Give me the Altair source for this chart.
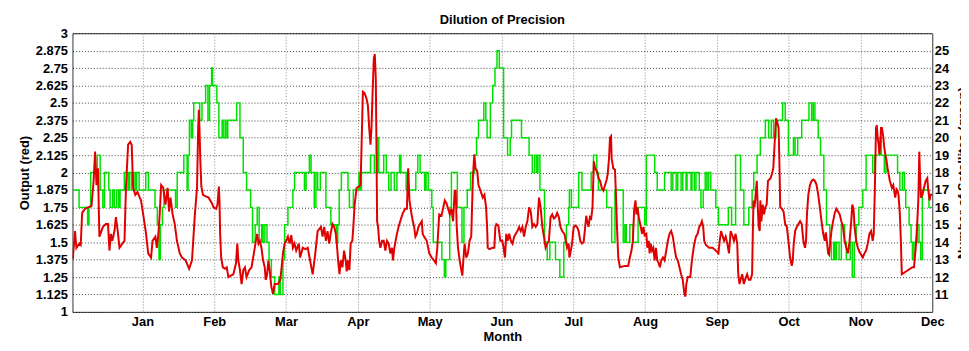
import altair as alt
import pandas as pd

CHART_TITLE = "Dilution of Precision"
MONTHS = ["Jan", "Feb", "Mar", "Apr", "May", "Jun", "Jul", "Aug", "Sep", "Oct", "Nov", "Dec"]
MONTH_TICKS = [1, 2, 3, 4, 5, 6, 7, 8, 9, 10, 11, 12]
LEFT_TICKS = [1, 1.125, 1.25, 1.375, 1.5, 1.625, 1.75, 1.875, 2, 2.125, 2.25, 2.375,
              2.5, 2.625, 2.75, 2.875, 3]
RIGHT_TICKS = [11, 12, 13, 14, 15, 16, 17, 18, 19, 20, 21, 22, 23, 24, 25]

# Output (red) : month position, value
red_pts = [
    (0.03, 1.38), (0.06, 1.58), (0.08, 1.46), (0.12, 1.49), (0.14, 1.48), (0.16, 1.71), (0.20, 1.74),
    (0.24, 1.75), (0.29, 1.76), (0.32, 1.94), (0.34, 2.15), (0.36, 1.91), (0.38, 2.03), (0.40, 1.54),
    (0.45, 1.61), (0.49, 1.63), (0.52, 1.63), (0.54, 1.44), (0.56, 1.56), (0.58, 1.51), (0.61, 1.58),
    (0.63, 1.68), (0.66, 1.56), (0.68, 1.46), (0.72, 1.49), (0.75, 1.51), (0.77, 1.89), (0.80, 2.20),
    (0.83, 2.22), (0.85, 2.20), (0.87, 1.89), (0.90, 1.84), (0.93, 1.86), (0.98, 1.80), (1.01, 1.70),
    (1.05, 1.56), (1.08, 1.42), (1.12, 1.39), (1.14, 1.51), (1.18, 1.54), (1.20, 1.46), (1.22, 1.55),
    (1.24, 1.70), (1.26, 1.91), (1.29, 1.89), (1.32, 1.77), (1.35, 1.89), (1.37, 1.72), (1.39, 1.82),
    (1.42, 1.70), (1.45, 1.63), (1.48, 1.51), (1.52, 1.42), (1.55, 1.39), (1.60, 1.37), (1.65, 1.31),
    (1.69, 1.37), (1.73, 1.70), (1.76, 1.89), (1.775, 2.30), (1.785, 2.45), (1.795, 2.30), (1.805, 2.10),
    (1.82, 1.90),
    (1.843, 1.84), (1.875, 1.83), (1.921, 1.82), (1.967, 1.78), (1.99, 1.75), (2.027, 1.74), (2.045, 1.77),
    (2.064, 1.90), (2.073, 1.80), (2.082, 1.56), (2.096, 1.39), (2.119, 1.32), (2.151, 1.31), (2.174, 1.32),
    (2.197, 1.25), (2.229, 1.26), (2.266, 1.27), (2.303, 1.35), (2.321, 1.49), (2.335, 1.37), (2.358, 1.30),
    (2.381, 1.20), (2.404, 1.30), (2.427, 1.32), (2.45, 1.25), (2.487, 1.30), (2.519, 1.32), (2.552, 1.42),
    (2.579, 1.51), (2.598, 1.56), (2.616, 1.49), (2.634, 1.51), (2.657, 1.46), (2.68, 1.37), (2.703, 1.32),
    (2.717, 1.23), (2.736, 1.27), (2.754, 1.37), (2.772, 1.30), (2.795, 1.18), (2.818, 1.13), (2.841, 1.20),
    (2.887, 1.20), (2.92, 1.23), (2.938, 1.32), (2.957, 1.42), (2.98, 1.49), (3.003, 1.51), (3.026, 1.54),
    (3.049, 1.49), (3.072, 1.55), (3.095, 1.46), (3.118, 1.49), (3.141, 1.44), (3.177, 1.49), (3.196, 1.39),
    (3.233, 1.46), (3.27, 1.45), (3.302, 1.46), (3.334, 1.37), (3.371, 1.27), (3.407, 1.42),
    (3.44, 1.58), (3.486, 1.61), (3.509, 1.54), (3.532, 1.61), (3.555, 1.51), (3.578, 1.58), (3.601, 1.49),
    (3.624, 1.57), (3.647, 1.63), (3.67, 1.61), (3.693, 1.56), (3.707, 1.49), (3.725, 1.37), (3.744, 1.27),
    (3.762, 1.37), (3.785, 1.32), (3.808, 1.44), (3.831, 1.37), (3.845, 1.29), (3.863, 1.37), (3.882, 1.30),
    (3.90, 1.49), (3.923, 1.51), (3.937, 1.61), (3.955, 1.77), (3.983, 1.89), (4.015, 1.90), (4.038, 1.91),
    (4.052, 2.20), (4.07, 2.58), (4.093, 2.57), (4.121, 2.53), (4.14, 2.48), (4.158, 2.32), (4.176, 2.20),
    (4.19, 2.32), (4.204, 2.55), (4.222, 2.82), (4.236, 2.85), (4.25, 2.67), (4.259, 2.20), (4.268, 1.65),
    (4.282, 1.61), (4.296, 1.51), (4.314, 1.46), (4.337, 1.51), (4.36, 1.51), (4.383, 1.44), (4.406, 1.51),
    (4.429, 1.49), (4.452, 1.42), (4.475, 1.46), (4.489, 1.37), (4.508, 1.46), (4.526, 1.51), (4.544, 1.56),
    (4.567, 1.61), (4.59, 1.65), (4.627, 1.71), (4.66, 1.74), (4.683, 1.74), (4.701, 2.03), (4.719, 1.80),
    (4.742, 1.72), (4.765, 1.65), (4.784, 1.61), (4.802, 1.54), (4.821, 1.56), (4.844, 1.61), (4.867, 1.63),
    (4.89, 1.65), (4.903, 1.56), (4.922, 1.54), (4.959, 1.51), (4.995, 1.42), (5.028, 1.39), (5.06, 1.37),
    (5.087, 1.35), (5.106, 1.46), (5.133, 1.70),
    (5.165, 1.69), (5.211, 1.80), (5.234, 1.78), (5.257, 1.74), (5.28, 1.70), (5.303, 1.74), (5.326, 1.65),
    (5.349, 1.87), (5.363, 1.87), (5.377, 1.61), (5.395, 1.46), (5.418, 1.37), (5.441, 1.30), (5.455, 1.26),
    (5.469, 1.37), (5.487, 1.49), (5.51, 1.39), (5.533, 1.42), (5.556, 1.51), (5.579, 1.54), (5.602, 1.96),
    (5.621, 2.13), (5.639, 2.03), (5.662, 2.01), (5.68, 1.91), (5.708, 1.87), (5.74, 1.82), (5.763, 1.84),
    (5.786, 1.75), (5.80, 1.61), (5.809, 1.46), (5.832, 1.45), (5.878, 1.46), (5.901, 1.46), (5.915, 1.61),
    (5.929, 1.63), (5.957, 1.62), (5.984, 1.51), (6.012, 1.51), (6.03, 1.46), (6.049, 1.39), (6.067, 1.56),
    (6.085, 1.51), (6.108, 1.56), (6.131, 1.51), (6.154, 1.49), (6.177, 1.54), (6.20, 1.56), (6.223, 1.58),
    (6.246, 1.61), (6.269, 1.58), (6.292, 1.61), (6.315, 1.54), (6.338, 1.61), (6.361, 1.65), (6.385, 1.75),
    (6.408, 1.72), (6.43, 1.61), (6.454, 1.63), (6.477, 1.61), (6.50, 1.63), (6.523, 1.82), (6.546, 1.75),
    (6.569, 1.61), (6.592, 1.54), (6.615, 1.46), (6.638, 1.49), (6.661, 1.51), (6.684, 1.68), (6.707, 1.70),
    (6.73, 1.67), (6.753, 1.68), (6.776, 1.71), (6.799, 1.68), (6.822, 1.61), (6.845, 1.58), (6.877, 1.56),
    (6.914, 1.46), (6.937, 1.49), (6.946, 1.39), (6.96, 1.42), (6.983, 1.49), (7.006, 1.61), (7.029, 1.62),
    (7.052, 1.61), (7.075, 1.58), (7.098, 1.51), (7.121, 1.49), (7.144, 1.50), (7.167, 1.61), (7.181, 1.69),
    (7.195, 1.65), (7.213, 1.61), (7.232, 1.68), (7.25, 1.67), (7.268, 1.75), (7.287, 2.08), (7.305, 2.03),
    (7.328, 2.01), (7.351, 1.96), (7.374, 1.94), (7.397, 1.89), (7.42, 1.87), (7.443, 1.91), (7.466, 1.95),
    (7.48, 1.99), (7.498, 2.10), (7.512, 2.25), (7.526, 2.26), (7.535, 2.10), (7.558, 2.03), (7.581, 2.02),
    (7.595, 1.84), (7.609, 1.61), (7.627, 1.39), (7.65, 1.32), (7.719, 1.33), (7.765, 1.33), (7.788, 1.39),
    (7.811, 1.44), (7.83, 1.51), (7.848, 1.73), (7.867, 1.80), (7.88, 1.70), (7.894, 1.75), (7.913, 1.68),
    (7.94, 1.61), (7.959, 1.56), (7.977, 1.61), (7.995, 1.55), (8.018, 1.56), (8.032, 1.46), (8.051, 1.51),
    (8.064, 1.42), (8.078, 1.49), (8.097, 1.44), (8.115, 1.46), (8.134, 1.37), (8.152, 1.46), (8.17, 1.37),
    (8.189, 1.35), (8.207, 1.32), (8.226, 1.37), (8.249, 1.39), (8.272, 1.37), (8.295, 1.44), (8.318, 1.51),
    (8.341, 1.56), (8.364, 1.58), (8.387, 1.54), (8.41, 1.46), (8.433, 1.39), (8.456, 1.37), (8.479, 1.32),
    (8.502, 1.27), (8.525, 1.23), (8.548, 1.13), (8.562, 1.11), (8.575, 1.20), (8.594, 1.25), (8.63, 1.25),
    (8.653, 1.37), (8.677, 1.46),
    (8.686, 1.49), (8.709, 1.54), (8.732, 1.56), (8.755, 1.61), (8.778, 1.63), (8.792, 1.65), (8.81, 1.61),
    (8.824, 1.51), (8.847, 1.48), (8.893, 1.46), (8.939, 1.46), (8.985, 1.44), (9.022, 1.42), (9.04, 1.51),
    (9.059, 1.58), (9.077, 1.55), (9.10, 1.51), (9.123, 1.54), (9.146, 1.49), (9.169, 1.42), (9.192, 1.58),
    (9.215, 1.55), (9.238, 1.51), (9.261, 1.56), (9.284, 1.49), (9.298, 1.27), (9.316, 1.20), (9.33, 1.23),
    (9.353, 1.27), (9.376, 1.20), (9.399, 1.24), (9.422, 1.27), (9.445, 1.23), (9.468, 1.23), (9.491, 1.27),
    (9.501, 1.56), (9.51, 1.80), (9.524, 1.75), (9.537, 1.82), (9.556, 1.94), (9.57, 1.75), (9.583, 1.61),
    (9.597, 1.58), (9.606, 1.80), (9.62, 1.65), (9.639, 1.77), (9.657, 1.70), (9.675, 1.75), (9.694, 1.77),
    (9.712, 1.94), (9.731, 1.95), (9.749, 1.96), (9.767, 1.99), (9.786, 2.03), (9.804, 2.20), (9.823, 2.39),
    (9.841, 2.36), (9.86, 2.32), (9.869, 2.13), (9.883, 1.75), (9.906, 1.74), (9.929, 1.72), (9.952, 1.63),
    (9.975, 1.61), (9.997, 1.51), (10.02, 1.39), (10.044, 1.33), (10.057, 1.37), (10.071, 1.49), (10.09, 1.58),
    (10.113, 1.61), (10.136, 1.63), (10.159, 1.65), (10.182, 1.63), (10.205, 1.51), (10.228, 1.46),
    (10.242, 1.51), (10.255, 1.70), (10.274, 1.84), (10.297, 1.91), (10.32, 1.94), (10.343, 1.95),
    (10.366, 1.94), (10.389, 1.91),
    (10.412, 1.84), (10.435, 1.75), (10.458, 1.65), (10.481, 1.56), (10.504, 1.51), (10.518, 1.57),
    (10.536, 1.49), (10.55, 1.42), (10.564, 1.41), (10.582, 1.51), (10.596, 1.58), (10.619, 1.65),
    (10.642, 1.71), (10.665, 1.74), (10.688, 1.72), (10.711, 1.70), (10.734, 1.65), (10.757, 1.61),
    (10.78, 1.51), (10.803, 1.46), (10.826, 1.42), (10.849, 1.51), (10.872, 1.65), (10.886, 1.77),
    (10.904, 1.74), (10.918, 1.61), (10.941, 1.51), (10.964, 1.46), (10.987, 1.43), (11.01, 1.41),
    (11.033, 1.39), (11.056, 1.42), (11.079, 1.44), (11.102, 1.49), (11.125, 1.56), (11.148, 1.58),
    (11.171, 1.51), (11.185, 1.56), (11.199, 1.84), (11.208, 2.08), (11.217, 2.32), (11.227, 2.34),
    (11.24, 2.25), (11.254, 2.20), (11.263, 2.13), (11.277, 2.20), (11.286, 2.32), (11.30, 2.32),
    (11.319, 2.25), (11.332, 2.18), (11.346, 2.13), (11.365, 2.08), (11.378, 2.03), (11.392, 1.99),
    (11.41, 1.94), (11.438, 1.89), (11.457, 1.91), (11.47, 1.87), (11.484, 1.82), (11.503, 1.88),
    (11.517, 1.87), (11.53, 1.84), (11.549, 1.70), (11.563, 1.51), (11.576, 1.27), (11.724, 1.32),
    (11.746, 1.32), (11.77, 1.46), (11.788, 1.61), (11.806, 1.80), (11.82, 2.15), (11.829, 1.99),
    (11.843, 1.82), (11.862, 1.84), (11.885, 1.89), (11.908, 1.94), (11.931, 1.96), (11.945, 1.87),
    (11.963, 1.80), (11.977, 1.84), (12.0, 1.84),
]

# Number of satellites (green): month at which the count changes, count
green_pts = [
    (0.03, 17), (0.117, 16), (0.236, 15), (0.255, 16), (0.278, 18), (0.37, 19), (0.411, 17), (0.448, 16),
    (0.471, 18), (0.531, 17), (0.55, 16), (0.586, 17), (0.609, 16), (0.641, 17), (0.669, 16), (0.688, 17),
    (0.747, 18), (0.798, 17), (0.816, 18), (0.844, 17), (0.876, 18), (0.899, 17), (0.918, 18), (0.954, 17),
    (1.046, 18), (1.083, 17), (1.175, 16), (1.207, 15), (1.23, 13), (1.249, 15), (1.277, 16), (1.30, 17),
    (1.461, 16), (1.484, 18), (1.576, 19), (1.622, 17), (1.635, 19), (1.654, 21), (1.68, 20), (1.70, 21),
    (1.714, 22),
    (1.797, 21), (1.829, 22), (1.88, 23), (1.912, 21), (1.935, 23), (1.963, 24), (1.976, 23), (2.036, 22),
    (2.064, 20), (2.11, 21), (2.124, 20), (2.151, 21), (2.165, 20), (2.188, 21), (2.312, 22), (2.358, 20),
    (2.404, 18), (2.45, 17), (2.506, 16), (2.533, 14), (2.57, 15), (2.598, 16), (2.625, 14), (2.66, 15),
    (2.68, 14), (2.705, 15), (2.735, 14), (2.763, 13), (2.795, 12), (2.842, 11), (2.90, 12), (2.92, 11),
    (2.957, 13), (2.98, 15), (3.026, 16), (3.095, 17), (3.118, 18), (3.256, 17), (3.279, 18), (3.325, 19),
    (3.348, 18), (3.393, 16), (3.416, 18),
    (3.44, 17), (3.477, 18), (3.555, 16), (3.624, 15), (3.70, 14), (3.72, 15), (3.74, 17), (3.771, 18),
    (3.863, 17), (3.882, 16), (3.937, 17), (4.015, 18), (4.03, 17), (4.05, 18), (4.176, 19), (4.23, 18),
    (4.268, 20), (4.291, 18), (4.36, 19), (4.397, 18), (4.43, 17), (4.462, 18), (4.508, 17), (4.544, 18),
    (4.581, 19), (4.60, 18), (4.673, 17), (4.807, 18), (4.835, 19), (4.867, 18), (4.93, 17), (4.95, 18),
    (4.98, 17), (5.03, 16), (5.05, 14), (5.17, 13), (5.205, 12), (5.225, 13),
    (5.28, 16), (5.303, 18), (5.386, 16), (5.45, 14), (5.478, 16), (5.524, 17), (5.57, 18), (5.625, 19),
    (5.653, 20), (5.68, 21), (5.754, 22), (5.782, 21), (5.80, 20), (5.846, 22), (5.878, 23), (5.91, 24),
    (5.938, 25), (5.97, 24), (6.03, 20), (6.085, 19), (6.122, 20), (6.14, 21), (6.279, 20), (6.385, 19),
    (6.43, 18), (6.463, 19), (6.49, 18), (6.509, 19), (6.536, 17), (6.60, 14), (6.638, 13), (6.674, 14),
    (6.753, 13), (6.813, 12), (6.868, 14), (6.905, 15), (6.937, 16),
    (6.946, 17), (6.974, 16), (7.075, 18), (7.121, 17), (7.25, 18), (7.282, 19), (7.328, 18), (7.351, 17),
    (7.466, 16), (7.535, 14), (7.581, 17), (7.696, 14), (7.719, 15), (7.738, 14), (7.788, 15), (7.834, 14),
    (7.903, 16), (7.995, 15), (8.018, 19), (8.134, 18), (8.17, 17), (8.272, 18), (8.364, 17), (8.387, 18),
    (8.433, 17), (8.456, 18), (8.502, 17), (8.525, 18), (8.571, 17), (8.585, 18),
    (8.64, 17), (8.654, 18), (8.686, 17), (8.709, 18), (8.755, 17), (8.778, 16), (8.81, 17), (8.838, 18),
    (8.861, 17), (8.884, 18), (8.916, 17), (8.985, 16), (9.022, 15), (9.16, 16), (9.206, 15), (9.261, 19),
    (9.33, 17), (9.376, 15), (9.445, 16), (9.491, 17), (9.514, 18), (9.56, 19), (9.606, 20), (9.675, 21),
    (9.721, 20), (9.758, 21), (9.79, 20), (9.823, 21), (9.915, 22), (9.952, 21), (9.997, 19), (10.067, 20),
    (10.09, 19), (10.126, 20), (10.182, 21), (10.283, 22), (10.32, 21), (10.343, 22), (10.366, 21),
    (10.412, 20), (10.444, 19), (10.49, 17), (10.527, 15), (10.573, 14), (10.596, 13), (10.628, 14),
    (10.647, 13), (10.665, 14), (10.702, 13), (10.734, 15), (10.78, 14), (10.803, 13), (10.858, 14),
    (10.886, 12), (10.914, 14), (10.941, 15), (10.978, 16), (11.033, 17), (11.079, 19), (11.171, 18),
    (11.199, 19), (11.273, 20), (11.291, 19), (11.332, 18), (11.355, 19), (11.517, 18), (11.549, 17),
    (11.585, 18), (11.613, 17), (11.631, 16), (11.678, 15), (11.705, 14), (11.724, 13), (11.746, 14),
    (11.792, 15), (11.816, 14), (11.839, 13), (11.862, 17), (11.954, 16), (12.0, 16),
]

red_df = pd.DataFrame(red_pts, columns=["month", "output"])
green_df = pd.DataFrame(green_pts, columns=["month", "sats"])
title_df = pd.DataFrame({"title": [CHART_TITLE]})

FONT = "Liberation Sans"
PLOT_W = 867
PLOT_H = 281
label_expr = "[" + ",".join("'%s'" % m for m in MONTHS) + "][datum.value - 1]"

x_enc = alt.X(
    "month:Q",
    scale=alt.Scale(domain=[0.025, 12], nice=False, zero=False),
    axis=alt.Axis(
        values=MONTH_TICKS, labelExpr=label_expr, title="Month",
        grid=True, gridDash=[1, 2], gridColor="#888888", gridWidth=1,
        ticks=False, tickSize=0, domain=False,
        labelPadding=4, labelFlush=False, labelOverlap=False, labelBound=False,
        titleY=19, titleBaseline="top",
    ),
)

green_chart = alt.Chart(green_df).mark_line(
    interpolate="step-after", color="#00e000", strokeWidth=1.5, clip=True
).encode(
    x=x_enc,
    y=alt.Y(
        "sats:Q",
        scale=alt.Scale(domain=[10, 26], nice=False, zero=False),
        axis=alt.Axis(
            orient="right", values=RIGHT_TICKS, format="d",
            title="Number of Satellites (green)", grid=False,
            ticks=False, tickSize=0, domain=False, labelPadding=2, labelOverlap=False,
            titleAngle=270, titleX=35, titleBaseline="alphabetic", titleAlign="center",
        ),
    ),
)

red_chart = alt.Chart(red_df).mark_line(
    color="#e00000", strokeWidth=2, clip=True
).encode(
    x=x_enc,
    y=alt.Y(
        "output:Q",
        scale=alt.Scale(domain=[1, 3], nice=False, zero=False),
        axis=alt.Axis(
            orient="left", values=LEFT_TICKS,
            labelExpr="format(datum.value, '.3~f')", title="Output (red)",
            grid=True, gridDash=[1, 2], gridColor="#000000", gridOpacity=0.75, gridWidth=1,
            ticks=False, tickSize=0, domain=False, labelPadding=5, labelOverlap=False,
            titleAngle=270, titleX=-44, titleBaseline="alphabetic", titleAlign="center",
        ),
    ),
)

title_chart = alt.Chart(title_df).mark_text(
    font=FONT, fontSize=13, fontWeight="bold", color="#000000",
    align="center", baseline="alphabetic",
).encode(
    x=alt.value(PLOT_W / 2),
    y=alt.value(-9.5),
    text="title:N",
)

chart = (
    alt.layer(green_chart, red_chart, title_chart)
    .resolve_scale(y="independent")
    .properties(
        width=PLOT_W,
        height=PLOT_H,
        autosize=alt.AutoSizeParams(type="none"),
        padding={"left": 65, "top": 24, "right": 29, "bottom": 35},
        background="white",
    )
    .configure_view(stroke="#333333", strokeWidth=1)
    .configure_axis(
        labelFont=FONT, labelFontSize=13, labelFontWeight="bold", labelColor="#000000",
        titleFont=FONT, titleFontSize=13, titleFontWeight="bold", titleColor="#000000",
    )
)

chart.save("out.html", embed_options={"renderer": "svg", "actions": False})
